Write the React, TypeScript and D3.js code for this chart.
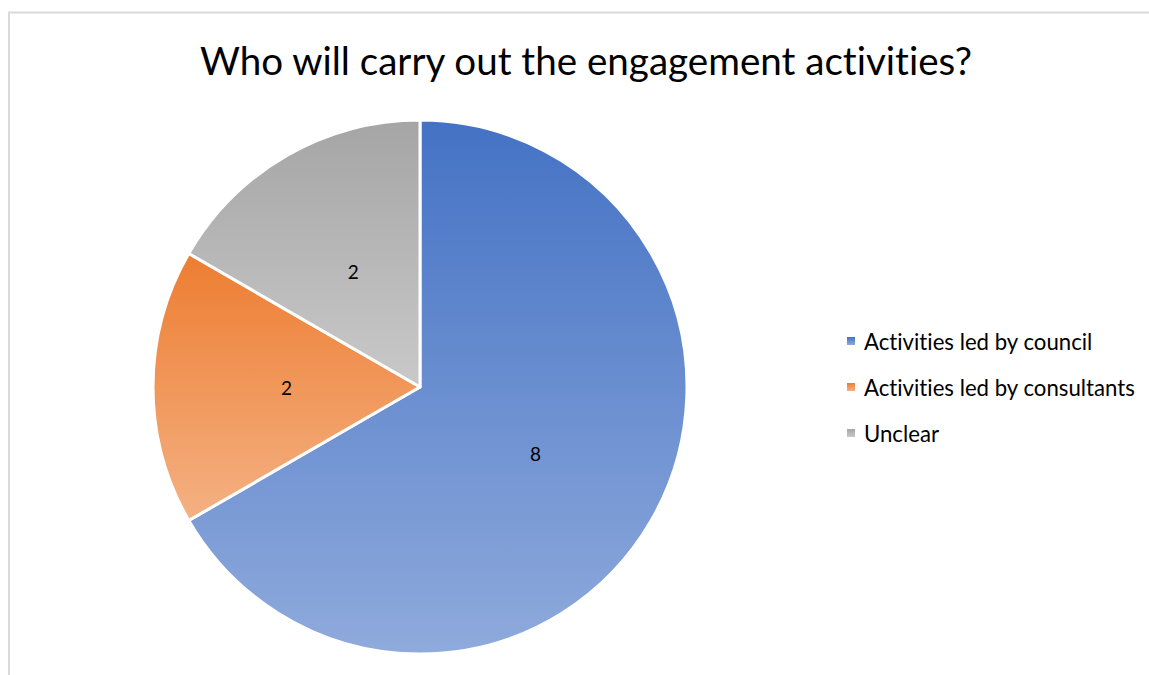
import React from "react";
import * as d3 from "d3";

const categories = ["Activities led by council", "Activities led by consultants", "Unclear"];
const values = [8, 2, 2];
const colorsTop = ["#4472C4", "#ED7D31", "#A5A5A5"];
const colorsBottom = ["#8FAADC", "#F4B183", "#C9C9C9"];
const title = "Who will carry out the engagement activities?";

export default function App() {
  const W = 1149, H = 675;
  const cx = 420, cy = 387, r = 267;
  const pie = d3.pie<number>().sort(null).value((d) => d);
  const arcs = pie(values);
  const arcGen = d3.arc<d3.PieArcDatum<number>>().innerRadius(0).outerRadius(r);
  const labelArc = d3.arc<d3.PieArcDatum<number>>().innerRadius(r * 0.5).outerRadius(r * 0.5);
  const font = "Lato, 'Open Sans', sans-serif";
  const legendY = d3.scalePoint<string>().domain(categories).range([341, 433]);
  const noLig = { fontVariantLigatures: "none" as const };
  return (
    <svg width={W} height={H} style={{ position: "absolute", left: 0, top: 0, background: "#fff" }}>
      <defs>
        {colorsTop.map((c, i) => (
          <linearGradient key={i} id={`g${i}`} x1="0" y1="0" x2="0" y2="1">
            <stop offset="0" stopColor={c} />
            <stop offset="1" stopColor={colorsBottom[i]} />
          </linearGradient>
        ))}
      </defs>
      <path d={`M9,675 L9,12.5 L1149,12.5`} fill="none" stroke="#d9d9d9" strokeWidth={2} />
      <text x={586} y={75} textAnchor="middle" fontFamily={font} fontSize={38.6} fill="#000" style={noLig}>
        {title}
      </text>
      <g transform={`translate(${cx},${cy})`}>
        {arcs.map((a, i) => (
          <path key={i} d={arcGen(a) || ""} fill={`url(#g${i})`} stroke="#fff" strokeWidth={3} strokeLinejoin="round" />
        ))}
        {arcs.map((a, i) => {
          const [x, y] = labelArc.centroid(a);
          return (
            <text key={i} x={x} y={y} textAnchor="middle" dominantBaseline="central" fontFamily={font} fontSize={19} fill="#000">
              {values[i]}
            </text>
          );
        })}
      </g>
      {categories.map((c, i) => (
        <g key={c} transform={`translate(0,${legendY(c)})`}>
          <rect x={847} y={-4} width={8} height={8} fill={`url(#g${i})`} />
          <text x={864} y={0} dominantBaseline="central" fontFamily={font} fontSize={22.2} fill="#000" style={noLig}>
            {c}
          </text>
        </g>
      ))}
    </svg>
  );
}
